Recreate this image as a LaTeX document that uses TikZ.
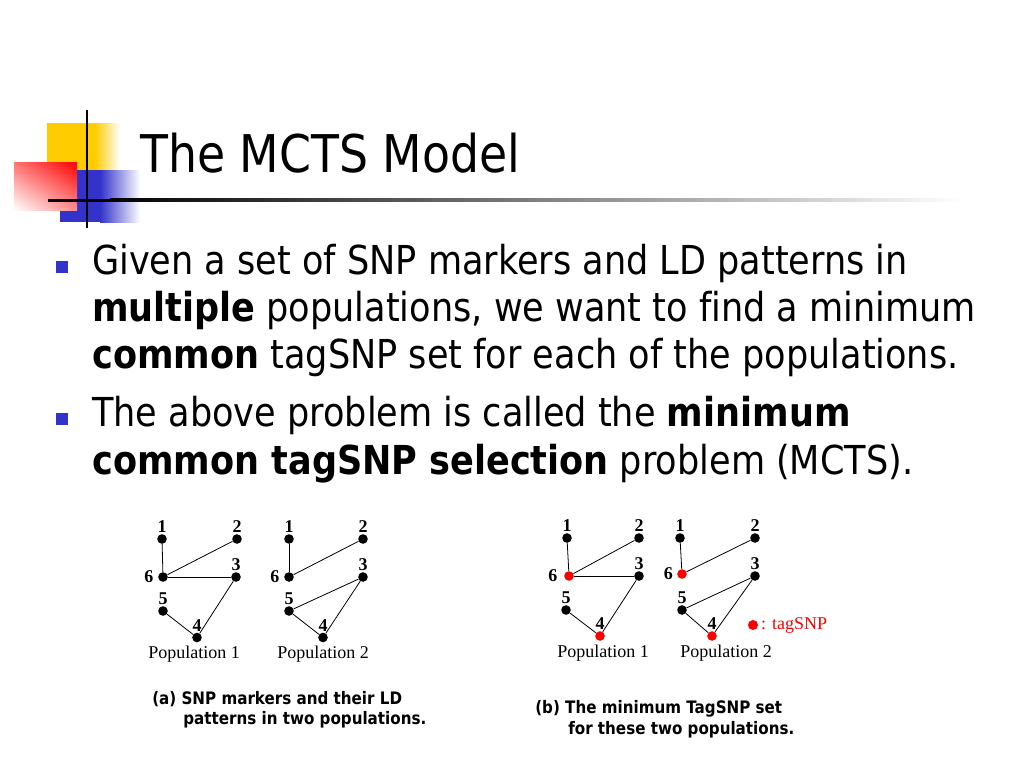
\documentclass[tikz,border=0pt]{standalone}
\usepackage{fontspec}
\setmainfont{DejaVu Sans}[FakeStretch=0.88, Ligatures=NoCommon]
\newfontfamily\timesfont{Liberation Serif}
\usetikzlibrary{positioning, shadings}

\definecolor{bulletblue}{RGB}{51,51,204}
\definecolor{logoyellow}{RGB}{255,204,0}
\definecolor{logoblue}{RGB}{51,51,204}

\tikzset{
  snp/.style={circle, fill=black, inner sep=0pt, minimum size=7.2pt},
  tagsnp/.style={snp, fill=red},
  ld/.style={line width=0.6pt},
  every label/.append style={font=\timesfont\bfseries\fontsize{13.5}{14}\selectfont, inner sep=0.8pt},
  bodytext/.style={anchor=base west, inner sep=0pt, font=\fontsize{29.9}{32}\selectfont},
  captext/.style={anchor=base west, inner sep=0pt, font=\bfseries\fontsize{12.9}{14}\selectfont},
  poplabel/.style={anchor=base, inner sep=0pt, font=\timesfont\fontsize{13.5}{15}\selectfont}
}

\begin{document}
\begin{tikzpicture}[x=0.75pt, y=-0.75pt, label distance=0pt]
    \useasboundingbox[fill=white] (0,0) rectangle (1024,768);

    % Draw logo
    \fill[logoyellow] (47,123) rectangle (95,200);
    \shade[left color=logoyellow, right color=white] (95,123) rectangle (120,200);
    \fill[logoblue] (60,170) rectangle (100,222);
    \shade[left color=logoblue, right color=white] (100,170) rectangle (140,222);
    \shade[upper right=red, upper left=red!55!white, lower right=red!45!white, lower left=white]
        (14,162) rectangle (77,210);
    \fill[black] (48,198.5) rectangle (110,201.5);
    \shade[left color=black, right color=white] (110,198.5) rectangle (965,201.5);
    \draw[line width=2.2pt] (87,110) -- (87,228);

    % Title
    \node[anchor=base west, inner sep=0pt, font=\fontsize{39}{44}\selectfont] (title) at (140,172) {The MCTS Model};

    % Bullets
    \fill[bulletblue] (56,261) rectangle (68,273);
    \fill[bulletblue] (56,413) rectangle (68,425);
    \node[bodytext] (line1) at (92,274) {Given a set of SNP markers and LD patterns in};
    \node[bodytext] (line2) at (92,321) {\textbf{multiple} populations, we want to find a minimum};
    \node[bodytext] (line3) at (92,368) {\textbf{common} tagSNP set for each of the populations.};
    \node[bodytext] (line4) at (92,426) {The above problem is called the \textbf{minimum}};
    \node[bodytext] (line5) at (92,474) {\textbf{common tagSNP selection} problem (MCTS).};

    % Draw Population 1 (a)
    \node[snp, label=above:1] (a1) at (162,539) {};
    \node[snp, label=above:2] (a2) at (237,539) {};
    \node[snp, label=above:3] (a3) at (236,577) {};
    \node[snp, label=above:4] (a4) at (197,637.5) {};
    \node[snp, label=above:5] (a5) at (163,611) {};
    \node[snp, label={[label distance=2.5pt]left:6}] (a6) at (163,577) {};
    \draw[ld] (a1) -- (a6);
    \draw[ld] (a6) -- (a2);
    \draw[ld] (a6) -- (a3);
    \draw[ld] (a3) -- (a4);
    \draw[ld] (a5) -- (a4);

    % Draw Population 2 (a)
    \node[snp, label=above:1] (b1) at (289,539) {};
    \node[snp, label=above:2] (b2) at (363,539) {};
    \node[snp, label=above:3] (b3) at (363,577) {};
    \node[snp, label=above:4] (b4) at (323,637.5) {};
    \node[snp, label=above:5] (b5) at (289,611) {};
    \node[snp, label={[label distance=2.5pt]left:6}] (b6) at (289,577) {};
    \draw[ld] (b1) -- (b6);
    \draw[ld] (b6) -- (b2);
    \draw[ld] (b5) -- (b3);
    \draw[ld] (b3) -- (b4);
    \draw[ld] (b5) -- (b4);

    % Draw Population 1 (b)
    \node[snp, label=above:1] (c1) at (567,538) {};
    \node[snp, label=above:2] (c2) at (639,538) {};
    \node[snp, label=above:3] (c3) at (639,576) {};
    \node[tagsnp, label=above:4] (c4) at (600,636) {};
    \node[snp, label=above:5] (c5) at (566,610) {};
    \node[tagsnp, label={[label distance=4pt]left:6}] (c6) at (569,576) {};
    \draw[ld] (c1) -- (c6);
    \draw[ld] (c6) -- (c2);
    \draw[ld] (c6) -- (c3);
    \draw[ld] (c3) -- (c4);
    \draw[ld] (c5) -- (c4);

    % Draw Population 2 (b)
    \node[snp, label=above:1] (d1) at (680,538) {};
    \node[snp, label=above:2] (d2) at (755,538) {};
    \node[snp, label=above:3] (d3) at (755,576) {};
    \node[tagsnp, label=above:4] (d4) at (712,636) {};
    \node[snp, label=above:5] (d5) at (682,610) {};
    \node[tagsnp, label={[label distance=2pt]left:6}] (d6) at (682,574) {};
    \draw[ld] (d1) -- (d6);
    \draw[ld] (d6) -- (d2);
    \draw[ld] (d5) -- (d3);
    \draw[ld] (d3) -- (d4);
    \draw[ld] (d5) -- (d4);

    % Legend
    \node[tagsnp, minimum size=7.5pt] (key) at (753,625) {};
    \node[right=2pt of key, inner sep=0pt, text=red, font=\timesfont\fontsize{13.5}{15}\selectfont] (keytext) {: tagSNP};

    % Labels
    \node[poplabel] (popa1) at (194,658) {Population 1};
    \node[poplabel] (popa2) at (323,658) {Population 2};
    \node[poplabel] (popb1) at (603,657) {Population 1};
    \node[poplabel] (popb2) at (726,657) {Population 2};

    % Captions
    \node[captext] (capa1) at (152,704) {(a) SNP markers and their LD};
    \node[captext] (capa2) at (183,724) {patterns in two populations.};
    \node[captext] (capb1) at (535,713) {(b) The minimum TagSNP set};
    \node[captext] (capb2) at (568,734) {for these two populations.};

\end{tikzpicture}
\end{document}
